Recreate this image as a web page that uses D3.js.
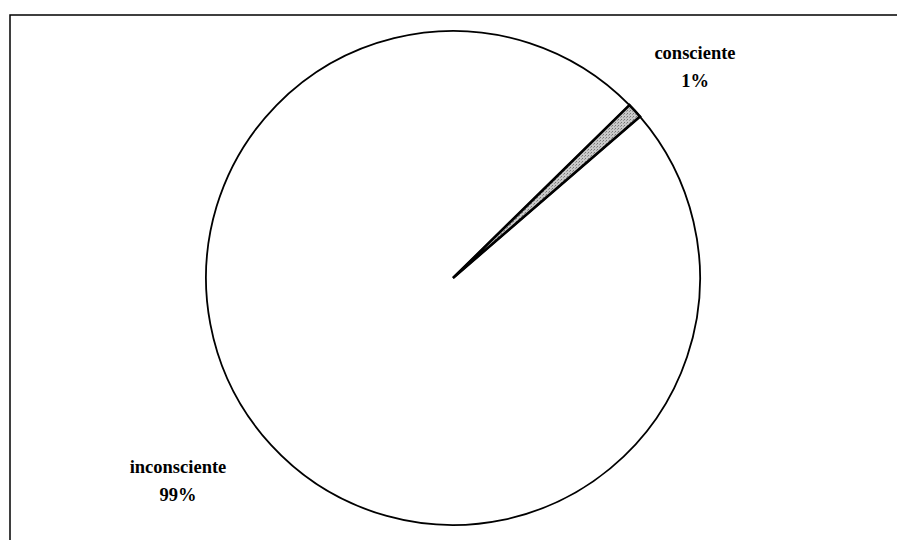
<!DOCTYPE html>
<html><head><meta charset="utf-8">
<script src="https://cdn.jsdelivr.net/npm/d3@7"></script>
<style>body{margin:0;background:#fff}</style>
</head><body>
<svg id="chart" width="897" height="540"></svg>
<script>
const categories = ["consciente", "inconsciente"];
const values = [1, 99];
const labels = ["1%", "99%"];

const svg = d3.select("#chart");
const cx = 453, cy = 278, r = 247;

// frame
svg.append("path").attr("d", "M10,540 L10,15 L897,15").attr("fill", "none").attr("stroke", "#000").attr("stroke-width", 1.5);

const defs = svg.append("defs");
const pat = defs.append("pattern").attr("id", "stip").attr("width", 3).attr("height", 3).attr("patternUnits", "userSpaceOnUse");
pat.append("rect").attr("width", 3).attr("height", 3).attr("fill", "#c8c8c8");
pat.append("rect").attr("x", 0).attr("y", 0).attr("width", 1).attr("height", 1).attr("fill", "#777");
pat.append("rect").attr("x", 2).attr("y", 1).attr("width", 1).attr("height", 1).attr("fill", "#999");

const start = 45.6 * Math.PI / 180;
const pie = d3.pie().sort(null).value(d => d).startAngle(start).endAngle(start + 2 * Math.PI);
const arcs = pie(values);
const arc = d3.arc().innerRadius(0).outerRadius(r);

const g = svg.append("g").attr("transform", `translate(${cx},${cy})`);
g.selectAll("path").data(arcs).join("path")
  .attr("d", arc)
  .attr("fill", (d, i) => i === 0 ? "url(#stip)" : "#fff")
  .attr("stroke", "#000")
  .attr("stroke-width", 1.8)
  .attr("stroke-linejoin", "miter");
// redraw small slice on top
g.append("path").datum(arcs[0]).attr("d", arc).attr("fill", "url(#stip)").attr("stroke", "#000").attr("stroke-width", 2.6);

const labelPos = [[695, 59], [178, 473]];
categories.forEach((c, i) => {
  const t = svg.append("text").attr("x", labelPos[i][0]).attr("y", labelPos[i][1])
    .attr("text-anchor", "middle").attr("font-family", "Liberation Serif, Times New Roman, serif")
    .attr("font-weight", "bold").attr("font-size", 18.5).attr("fill", "#000");
  t.append("tspan").attr("x", labelPos[i][0]).attr("dy", 0).text(c);
  t.append("tspan").attr("x", labelPos[i][0]).attr("dy", 28).text(labels[i]);
});
</script>
</body></html>
